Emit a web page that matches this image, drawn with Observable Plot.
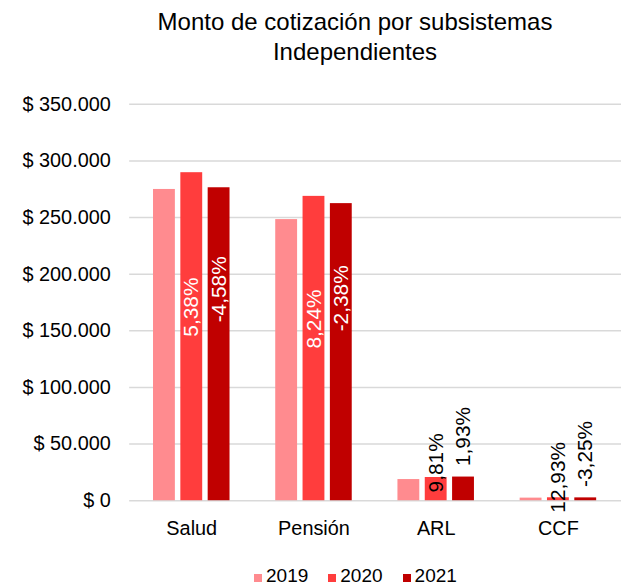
<!DOCTYPE html>
<html><head><meta charset="utf-8">
<script src="https://cdn.jsdelivr.net/npm/d3@7"></script>
<script src="https://cdn.jsdelivr.net/npm/@observablehq/plot@0.6"></script>
<style>
html,body{margin:0;padding:0;background:#fff;overflow:hidden;width:621px;height:588px;position:relative;}
body{font-family:"Liberation Sans",Arial,sans-serif;color:#000;}
#title{position:absolute;left:55px;top:0;width:600px;text-align:center;font-size:24px;line-height:30px;padding-top:7px;}
#chart{position:absolute;left:0;top:70px;}
#legend{position:absolute;left:254px;top:565px;display:flex;gap:20px;font-size:19px;line-height:21px;white-space:nowrap;}
.item{display:flex;align-items:center;gap:4px;}
.sw{width:8px;height:8px;display:inline-block;margin-top:5px;}
</style>
</head><body>
<div id="title">Monto de cotización por subsistemas<br>Independientes</div>
<div id="chart"></div>
<div id="legend"></div>
<script>
const categories = ["Salud", "Pensión", "ARL", "CCF"];
const years = ["2019", "2020", "2021"];
const v2019 = [274800, 248200, 18700, 2300];
const v2020 = [289600, 268700, 20500, 2600];
const v2021 = [276300, 262300, 20900, 2515];
const g2020 = ["5,38%", "8,24%", "9,81%", "12,93%"];
const g2021 = ["-4,58%", "-2,38%", "1,93%", "-3,25%"];
const yTicks = [0, 50000, 100000, 150000, 200000, 250000, 300000, 350000];
const colors = ["#ff8b8f", "#ff3d3d", "#c00000"];

const series = [v2019, v2020, v2021];
const growths = [null, g2020, g2021];
const rows = categories.flatMap((c, i) => years.map((y, j) => ({
  category: c, year: y, value: series[j][i], growth: growths[j] ? growths[j][i] : null
})));

const fmt = d => "$ " + d3.format(",")(d).replace(/,/g, ".");
const bw = 78, barW = 23, step = (bw - barW) / 2;

const bars = years.map((y, j) => Plot.barY(rows.filter(d => d.year === y), {
  x: "category", y: "value", fill: colors[j],
  insetLeft: j * step, insetRight: (2 - j) * step
}));

const labelFrac = {"2020": 0.5, "2021": 0.57};
const labelDy = {"2020": 15, "2021": -11};
const labels = ["2020", "2021"].flatMap((y, k) => {
  const dx = (k === 0 ? 0 : step);
  const sub = rows.filter(d => d.year === y);
  return [
    Plot.text(sub.filter(d => d.value > 100000), {
      x: "category", y: d => d.value * labelFrac[y], text: "growth",
      rotate: -90, textAnchor: "start", fill: "white", fontSize: 21, dx
    }),
    Plot.text(sub.filter(d => d.value <= 100000), {
      x: "category", y: "value", text: "growth",
      rotate: -90, textAnchor: "start", fill: "black", fontSize: 21, dx, dy: labelDy[y]
    })
  ];
});

const chart = Plot.plot({
  width: 625, height: 483,
  marginLeft: 130, marginRight: 0, marginTop: 34, marginBottom: 50,
  style: {fontFamily: '"Liberation Sans", Arial, sans-serif', fontSize: "20px", background: "transparent", color: "#000"},
  x: {type: "band", domain: categories, paddingInner: 0.37, paddingOuter: 0.185},
  y: {domain: [0, 350000]},
  marks: [
    Plot.gridY(yTicks, {stroke: "#d9d9d9", strokeOpacity: 1, strokeWidth: 1.5}),
    ...bars,
    ...labels,
    Plot.axisY(yTicks, {tickSize: 0, tickPadding: 19, tickFormat: fmt, fontSize: 20, label: null}),
    Plot.axisX({tickSize: 0, tickPadding: 20, fontSize: 20, label: null})
  ]
});
document.getElementById("chart").appendChild(chart);

const legend = document.getElementById("legend");
years.forEach((y, j) => {
  const it = document.createElement("div");
  it.className = "item";
  it.innerHTML = `<span class="sw" style="background:${colors[j]}"></span><span>${y}</span>`;
  legend.appendChild(it);
});
</script>
</body></html>
